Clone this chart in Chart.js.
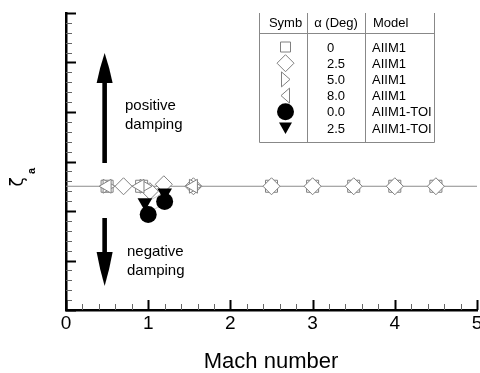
<!DOCTYPE html>
<html>
<head>
<meta charset="utf-8">
<script src="https://cdn.jsdelivr.net/npm/chart.js@4.4.1/dist/chart.umd.min.js"></script>
<style>
  html, body { margin: 0; padding: 0; background: #fff; }
  #wrap { width: 480px; height: 373px; }
</style>
</head>
<body>
<div id="wrap"><canvas id="chart" width="480" height="373"></canvas></div>
<script>
// Mach number / damping data
const machSquare = [0.5, 0.92, 2.5, 3.0, 3.5, 4.0, 4.5];
const zetaSquare = [0, 0, 0, 0, 0, 0, 0];
const machDiamond = [0.7, 1.02, 1.19, 1.55, 2.5, 3.0, 3.5, 4.0, 4.5];
const zetaDiamond = [0, -0.1, 0.04, 0, 0, 0, 0, 0, 0];
const machRight = [0.5, 0.95, 1.55];
const zetaRight = [0, 0, 0];
const machLeft = [0.5, 0.9, 1.55];
const zetaLeft = [0, 0, 0];
const machCircleToi = [1.0, 1.2];
const zetaCircleToi = [-0.57, -0.31];
const machTriToi = [0.96, 1.2];
const zetaTriToi = [-0.33, -0.13];
const zeroLineX = [0, 5];
const zeroLineY = [0, 0];

const xTicks = [0, 1, 2, 3, 4, 5];
const xTickLabels = ['0', '1', '2', '3', '4', '5'];
const yTicks = [-2.5, -1.5, -0.5, 0.5, 1.5, 2.5, 3.5];

// legend table rows
const legendSymb = ['rect', 'rectRot', 'triR', 'triL', 'circle', 'triD'];
const legendAlpha = ['0', '2.5', '5.0', '8.0', '0.0', '2.5'];
const legendModel = ['AIIM1', 'AIIM1', 'AIIM1', 'AIIM1', 'AIIM1-TOI', 'AIIM1-TOI'];

const FONT = "'Liberation Sans', Arial, sans-serif";
const pts = (xs, ys) => xs.map((v, i) => ({ x: v, y: ys[i] }));

function openSet(label, xs, ys, style, rot, r, ord) {
    return {
        label: label,
        data: pts(xs, ys),
        showLine: false,
        pointStyle: style,
        rotation: rot,
        pointRadius: r,
        pointBackgroundColor: '#fff',
        pointBorderColor: '#808080',
        pointBorderWidth: 1,
        order: ord
    };
}

// legend symbols drawn by hand
function drawSymbol(ctx, kind, cx, cy) {
    ctx.beginPath();
    if (kind === 'rect') {
        ctx.rect(cx - 5, cy - 5, 10, 10);
    } else if (kind === 'rectRot') {
        ctx.moveTo(cx, cy - 8.5); ctx.lineTo(cx + 8.5, cy); ctx.lineTo(cx, cy + 8.5); ctx.lineTo(cx - 8.5, cy); ctx.closePath();
    } else if (kind === 'triR') {
        ctx.moveTo(cx - 4, cy - 7.5); ctx.lineTo(cx + 4.5, cy); ctx.lineTo(cx - 4, cy + 7.5); ctx.closePath();
    } else if (kind === 'triL') {
        ctx.moveTo(cx + 4, cy - 7.5); ctx.lineTo(cx - 4.5, cy); ctx.lineTo(cx + 4, cy + 7.5); ctx.closePath();
    } else if (kind === 'circle') {
        ctx.arc(cx, cy, 8.5, 0, Math.PI * 2);
    } else if (kind === 'triD') {
        ctx.moveTo(cx - 6.5, cy - 5.5); ctx.lineTo(cx + 6.5, cy - 5.5); ctx.lineTo(cx, cy + 6); ctx.closePath();
    }
    if (kind === 'circle' || kind === 'triD') {
        ctx.fillStyle = '#000';
        ctx.fill();
    } else {
        ctx.fillStyle = '#fff';
        ctx.fill();
        ctx.strokeStyle = '#808080';
        ctx.lineWidth = 1;
        ctx.stroke();
    }
}

function seg(ctx, x1, y1, x2, y2) {
    ctx.beginPath();
    ctx.moveTo(x1, y1);
    ctx.lineTo(x2, y2);
    ctx.stroke();
}

function arrow(ctx, x, yTail, yBase, yTip) {
    ctx.fillStyle = '#000';
    ctx.fillRect(x - 2.3, Math.min(yTail, yBase), 4.6, Math.abs(yBase - yTail));
    ctx.beginPath();
    ctx.moveTo(x - 8, yBase);
    ctx.quadraticCurveTo(x - 5, (yBase + yTip) / 2, x, yTip);
    ctx.quadraticCurveTo(x + 5, (yBase + yTip) / 2, x + 8, yBase);
    ctx.closePath();
    ctx.fill();
}

const decor = {
    id: 'decor',
    afterDraw(chart) {
        const ctx = chart.ctx;
        const a = chart.chartArea;
        const xs = chart.scales.x;
        const ys = chart.scales.y;
        ctx.save();

        // inward ticks, y axis
        for (let i = 0; i < yTicks.length; i++) {
            const py = Math.round(ys.getPixelForValue(yTicks[i])) + 0.5;
            ctx.strokeStyle = '#000';
            ctx.lineWidth = 2;
            seg(ctx, a.left, py, a.left + 10, py);
            if (i < yTicks.length - 1) {
                ctx.strokeStyle = '#666';
                ctx.lineWidth = 1;
                for (let k = 1; k < 5; k++) {
                    const m = Math.round(ys.getPixelForValue(yTicks[i] + k * (yTicks[i + 1] - yTicks[i]) / 5)) + 0.5;
                    seg(ctx, a.left, m, a.left + 6, m);
                }
            }
        }
        // inward ticks, x axis
        for (let i = 0; i < xTicks.length; i++) {
            const px = Math.round(xs.getPixelForValue(xTicks[i])) + 0.5;
            ctx.strokeStyle = '#000';
            ctx.lineWidth = 2;
            seg(ctx, px, a.bottom, px, a.bottom - 10);
            if (i < xTicks.length - 1) {
                ctx.strokeStyle = '#666';
                ctx.lineWidth = 1;
                for (let k = 1; k < 5; k++) {
                    const m = Math.round(xs.getPixelForValue(xTicks[i] + k * (xTicks[i + 1] - xTicks[i]) / 5)) + 0.5;
                    seg(ctx, m, a.bottom, m, a.bottom - 6);
                }
            }
        }

        // tick labels and axis titles
        ctx.fillStyle = '#000';
        ctx.font = '19px ' + FONT;
        ctx.textAlign = 'center';
        ctx.textBaseline = 'alphabetic';
        xTicks.forEach((v, i) => ctx.fillText(xTickLabels[i], xs.getPixelForValue(v), 329));
        ctx.font = '22px ' + FONT;
        ctx.fillText('Mach number', 271, 368);

        ctx.save();
        ctx.translate(19, 182);
        ctx.rotate(-Math.PI / 2);
        ctx.font = '17px DejaVu Sans, sans-serif';
        ctx.textBaseline = 'middle';
        ctx.fillText('ζ', 0, 0);
        ctx.font = 'bold 11px ' + FONT;
        ctx.fillText('a', 11, 13);
        ctx.restore();

        // damping arrows and notes
        const ax = xs.getPixelForValue(0.47);
        arrow(ctx, ax, 163, 83, 53);
        arrow(ctx, ax, 218, 252, 286);
        ctx.font = '15px ' + FONT;
        ctx.textAlign = 'left';
        ctx.fillStyle = '#000';
        ctx.fillText('positive', 125, 110);
        ctx.fillText('damping', 125, 129);
        ctx.fillText('negative', 127, 256);
        ctx.fillText('damping', 127, 275);

        // legend table
        const L = 259.5, D1 = 307.5, D2 = 365.5, R = 434.5, T = a.top, B = 142.5, H = 33.5;
        ctx.strokeStyle = '#888';
        ctx.lineWidth = 1;
        seg(ctx, L, T, L, B);
        seg(ctx, R, T, R, B);
        seg(ctx, D1, T, D1, B);
        seg(ctx, D2, T, D2, B);
        seg(ctx, L, B, R, B);
        seg(ctx, L, H, R, H);
        ctx.fillStyle = '#000';
        ctx.font = '13px ' + FONT;
        ctx.textAlign = 'center';
        ctx.fillText('Symb', 285.5, 27);
        ctx.fillText('α (Deg)', 336, 27);
        ctx.textAlign = 'left';
        ctx.fillText('Model', 373, 27);
        for (let i = 0; i < legendSymb.length; i++) {
            const base = 51.5 + i * 16.2;
            drawSymbol(ctx, legendSymb[i], 285.5, base - 4.5);
            ctx.fillStyle = '#000';
            ctx.textAlign = 'left';
            ctx.font = '13px ' + FONT;
            ctx.fillText(legendAlpha[i], 327, base);
            ctx.fillText(legendModel[i], 372, base);
        }
        ctx.restore();
    }
};

new Chart(document.getElementById('chart'), {
    type: 'scatter',
    data: {
        datasets: [
            {
                label: 'zero',
                data: pts(zeroLineX, zeroLineY),
                showLine: true,
                borderColor: '#8c8c8c',
                borderWidth: 1,
                pointRadius: 0,
                order: 10
            },
            openSet('square', machSquare, zetaSquare, 'rect', 0, 8.5, 5),
            openSet('diamond', machDiamond, zetaDiamond, 'rectRot', 0, 8.5, 4),
            openSet('right', machRight, zetaRight, 'triangle', 90, 8, 3),
            openSet('left', machLeft, zetaLeft, 'triangle', -90, 8, 2),
            {
                label: 'circleToi',
                data: pts(machCircleToi, zetaCircleToi),
                showLine: true,
                borderColor: '#c8c8c8',
                borderWidth: 1,
                pointStyle: 'circle',
                pointRadius: 8.5,
                pointBackgroundColor: '#000',
                pointBorderColor: '#000',
                pointBorderWidth: 0,
                order: 1
            },
            {
                label: 'triToi',
                data: pts(machTriToi, zetaTriToi),
                showLine: true,
                borderColor: '#c8c8c8',
                borderWidth: 1,
                pointStyle: 'triangle',
                rotation: 180,
                pointRadius: 8.5,
                pointBackgroundColor: '#000',
                pointBorderColor: '#000',
                pointBorderWidth: 0,
                order: 0
            }
        ]
    },
    options: {
        responsive: false,
        animation: false,
        events: [],
        layout: { autoPadding: false, padding: { left: 66, top: 13, right: 3, bottom: 63 } },
        plugins: { legend: { display: false }, tooltip: { enabled: false } },
        scales: {
            x: {
                type: 'linear',
                min: 0,
                max: 5,
                ticks: { display: false },
                grid: { display: false, drawTicks: false },
                border: { display: true, color: '#000', width: 2.5 }
            },
            y: {
                type: 'linear',
                min: -2.5,
                max: 3.5,
                ticks: { display: false },
                grid: { display: false, drawTicks: false },
                border: { display: true, color: '#000', width: 2.5 }
            }
        }
    },
    plugins: [decor]
});
</script>
</body>
</html>
